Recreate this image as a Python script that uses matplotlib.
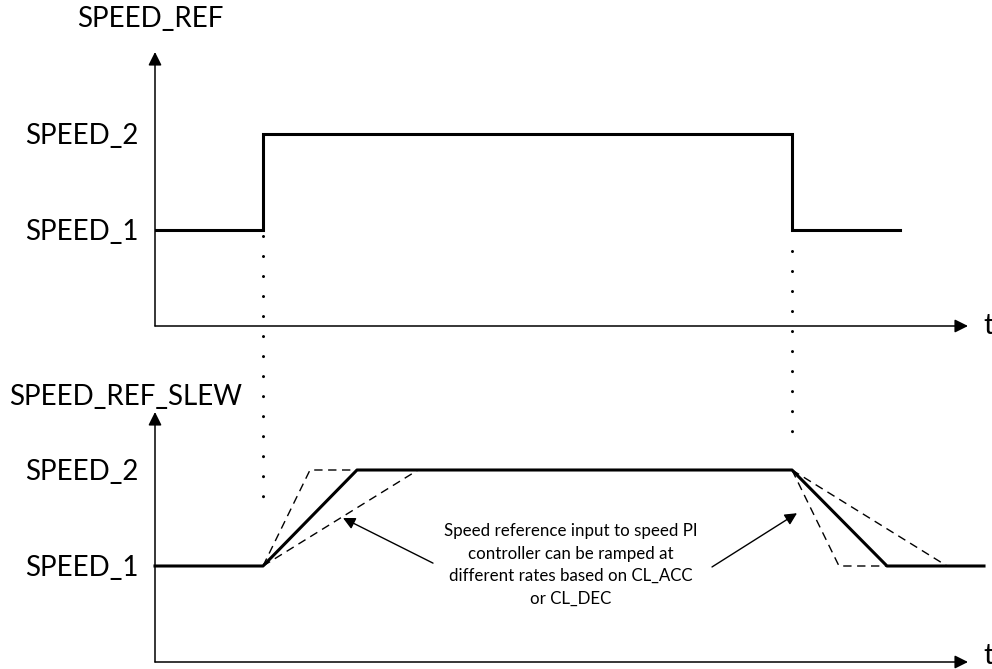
import matplotlib
matplotlib.use("Agg")
import matplotlib.pyplot as plt

plt.rcParams["font.family"] = ["Lato", "DejaVu Sans"]
plt.rcParams["lines.scale_dashes"] = False

# figure size in pixels
W, H = 992, 669

# time events (1 unit = 100 px of the time axis)
t_up = 1.08
t_down = 6.37
t_end_ref = 7.45
t_end_slew = 8.29
t_axis_end = 8.13

# speed levels
speed_levels = [1, 2]
speed_labels = ["SPEED_1", "SPEED_2"]

# SPEED_REF step signal
ref_t = [0, t_up, t_up, t_down, t_down, t_end_ref]
ref_v = [1, 1, 2, 2, 1, 1]

# SPEED_REF_SLEW, nominal ramp
slew_t = [0, t_up, 2.02, t_down, 7.32, t_end_slew]
slew_v = [1, 1, 2, 2, 1, 1]

# faster ramps (dashed)
fast_up_t = [t_up, 1.55, 2.02]
fast_up_v = [1, 2, 2]
fast_dn_t = [t_down, 6.84, 7.32]
fast_dn_v = [2, 1, 1]

# slower ramps (dashed)
slow_up_t = [t_up, 2.63]
slow_up_v = [1, 2]
slow_dn_t = [t_down, 7.92]
slow_dn_v = [2, 1]

# dotted event markers (drawn in top-panel units)
mark_t = [t_up, t_down]
mark_top = [0.94, 0.78]
mark_bot = [-1.98, -1.30]

note = ("Speed reference input to speed PI\ncontroller can be ramped at\n"
        "different rates based on CL_ACC\nor CL_DEC")


def px_box(x0, y0, x1, y1):
    """pixel box (top-left origin) -> figure fraction [l, b, w, h]"""
    return [x0 / W, 1 - y1 / H, (x1 - x0) / W, (y1 - y0) / H]


fig = plt.figure(figsize=(W / 100, H / 100), dpi=100)
ax1 = fig.add_axes(px_box(155, 52, 968, 326))
ax2 = fig.add_axes(px_box(155, 412, 968, 662))
ax1.set_ylim(0, 274 / 96)
ax2.set_ylim(0, 250 / 96)

for ax, t_dy in ((ax1, 0), (ax2, 4)):
    ax.set_xlim(0, t_axis_end)
    for s in ax.spines.values():
        s.set_visible(False)
    ax.set_xticks([])
    ax.set_yticks(speed_levels, speed_labels, fontsize=20)
    ax.tick_params(axis="y", length=0, pad=12)
    ax.patch.set_alpha(0)
    # axis arrows
    arrow = dict(arrowstyle="-|>", color="black", lw=1.1, mutation_scale=20,
                 shrinkA=0, shrinkB=0)
    ax.annotate("", xy=(0, 1), xytext=(0, 0), xycoords="axes fraction",
                arrowprops=arrow)
    ax.annotate("", xy=(1, 0), xytext=(0, 0), xycoords="axes fraction",
                arrowprops=arrow)
    ax.annotate("t", xy=(1, 0), xycoords="axes fraction", xytext=(11, t_dy),
                textcoords="offset points", va="center", ha="left", fontsize=21)

# top panel
ax1.plot(ref_t, ref_v, color="black", lw=2.2, solid_joinstyle="miter")
for t, y0, y1 in zip(mark_t, mark_top, mark_bot):
    ax1.plot([t, t], [y0, y1], color="black", lw=2.2,
             ls=(0, (0.01, 14.4)), dash_capstyle="round", clip_on=False)

# bottom panel
dash = dict(color="black", lw=1.0, ls=(0, (6, 4)), clip_on=False)
ax2.plot(fast_up_t, fast_up_v, **dash)
ax2.plot(fast_dn_t, fast_dn_v, **dash)
ax2.plot(slow_up_t, slow_up_v, **dash)
ax2.plot(slow_dn_t, slow_dn_v, **dash)
ax2.plot(slew_t, slew_v, color="black", lw=2.2, clip_on=False)

ax2.text(4.16, 1.01, note, ha="center", va="center", fontsize=12.2,
         linespacing=1.5)
pointer = dict(arrowstyle="-|>", color="black", lw=1.0, mutation_scale=18,
               shrinkA=0, shrinkB=0)
ax2.annotate("", xy=(1.88, 1.50), xytext=(2.78, 1.03), arrowprops=pointer)
ax2.annotate("", xy=(6.42, 1.55), xytext=(5.57, 0.99), arrowprops=pointer)

# panel titles
fig.text(150 / W, 1 - 27 / H, "SPEED_REF", ha="center", va="baseline",
         fontsize=20)
fig.text(126 / W, 1 - 405 / H, "SPEED_REF_SLEW", ha="center", va="baseline",
         fontsize=20)

fig.savefig("out.png", dpi=100)
